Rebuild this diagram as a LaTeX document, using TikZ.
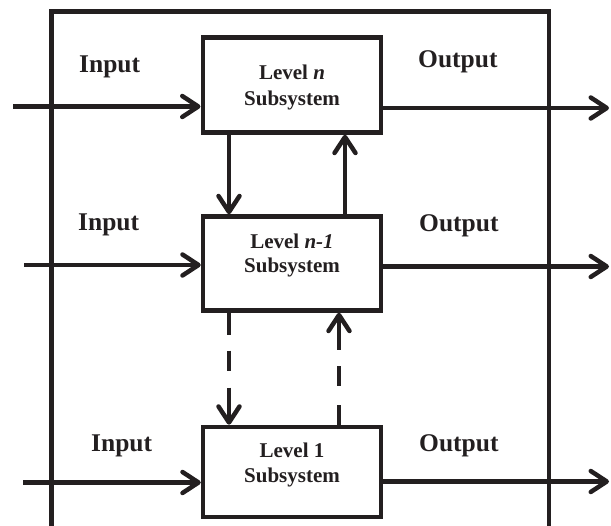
\documentclass[tikz,border=0pt]{standalone}
\usepackage{fontspec}
\setmainfont{Liberation Serif}
\usetikzlibrary{arrows.meta}
\definecolor{inkc}{RGB}{35,31,32}
\begin{document}
\begin{tikzpicture}[x=1pt,y=-1pt,
  ink/.style={draw=inkc, line width=4.5pt},
  box/.style={ink, rectangle, minimum width=178pt, inner sep=0pt, fill=white},
  boxtext/.style={anchor=base, inner sep=0pt, text=inkc,
    font=\fontsize{21}{25}\selectfont\bfseries},
  label/.style={anchor=base west, inner sep=0pt, text=inkc,
    font=\fontsize{25.5}{30}\selectfont\bfseries},
  tip/.style={-{Straight Barb[length=16pt,width=21pt,line cap=round,line join=round]}},
  flow/.style={ink, tip},
  downdash/.style={ink, tip, dash pattern=on 22pt off 16pt on 20pt off 17pt on 42pt off 100pt},
  updash/.style={ink, tip, dash pattern=on 20pt off 19pt on 20pt off 16pt on 42pt off 100pt},
]
\useasboundingbox (0,0) rectangle (611,526);

% enclosing frame, open at the bottom
\draw[ink, line join=miter] (51.5,530) -- (51.5,11.5) -- (549,11.5) -- (549,530);

% subsystem boxes
\node[box, minimum height=95pt] (Ln)  at (291.75,85)  {};
\node[box, minimum height=94pt] (Lm)  at (292,263.5)  {};
\node[box, minimum height=90pt] (L1)  at (292,472)    {};

\node[boxtext] (tn1) at (292,80)  {Level \textit{n}};
\node[boxtext] (tn2) at (292,106) {Subsystem};
\node[boxtext] (tm1) at (292,249) {Level \textit{n-1}};
\node[boxtext] (tm2) at (292,273) {Subsystem};
\node[boxtext] (t11) at (292,458) {Level 1};
\node[boxtext] (t12) at (292,483) {Subsystem};

% input / output labels
\node[label] (inA)  at (79,73)   {Input};
\node[label] (outA) at (418,68)  {Output};
\node[label] (inB)  at (78,231)  {Input};
\node[label] (outB) at (419,232) {Output};
\node[label] (inC)  at (91,452)  {Input};
\node[label] (outC) at (419,452) {Output};

% free ends of the input and output lines
\coordinate (srcA) at (13,106.5);
\coordinate (srcB) at (24,265);
\coordinate (srcC) at (23,482.5);
\coordinate (dstA) at (609,108);
\coordinate (dstB) at (609,266.5);
\coordinate (dstC) at (609,481.5);

\draw[flow] (srcA) -- (srcA -| Ln.west);
\draw[flow] (srcB) -- (srcB -| Lm.west);
\draw[flow] (srcC) -- (srcC -| L1.west);
\draw[flow] (dstA -| Ln.east) -- (dstA);
\draw[flow] (dstB -| Lm.east) -- (dstB);
\draw[flow] (dstC -| L1.east) -- (dstC);

% links between levels
\draw[flow] (229,0 |- Ln.south) -- (229,0 |- Lm.north);
\draw[flow] (345,0 |- Lm.north) -- (345,0 |- Ln.south);
\draw[downdash] (229,0 |- Lm.south) -- (229,0 |- L1.north);
\draw[updash] (339,0 |- L1.north) -- (339,0 |- Lm.south);
\end{tikzpicture}
\end{document}
